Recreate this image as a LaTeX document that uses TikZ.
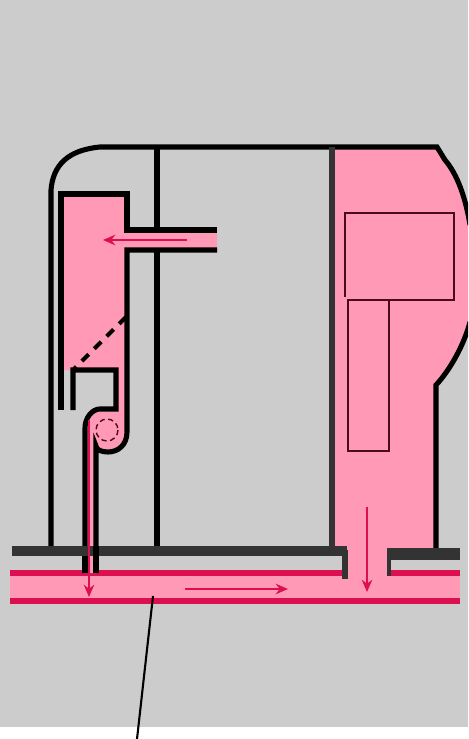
\documentclass[tikz,border=0pt]{standalone}
\usepackage{tikz}
\usetikzlibrary{arrows.meta}
\definecolor{bggray}{HTML}{CCCCCC}
\definecolor{flowpink}{HTML}{FF99B5}
\definecolor{flowred}{HTML}{DC1050}
\definecolor{bardark}{HTML}{333333}
\definecolor{boxred}{HTML}{4A0A20}
\tikzset{
	wall/.style={line width=2.9pt, black},
	bar/.style={line width=2.9pt, bardark},
	flowline/.style={line width=3.4pt, flowred},
	flowarrow/.style={->, line width=0.9pt, flowred},
	innerbox/.style={line width=0.9pt, boxred}
}
\begin{document}
\begin{tikzpicture}[x=0.02cm, y=-0.02cm, >={Stealth[length=7pt, width=6pt]}]
	\clip (0, 0) rectangle (468, 739);
	\fill[white] (0, 0) rectangle (468, 739);
	\fill[bggray] (0, 0) rectangle (468, 727);

	% Vùng hồng bên phải
	\fill[flowpink] (332, 147) -- (437, 147) -- (445, 160) .. controls (458, 175) and (466, 200) .. (470, 225)
		-- (470, 322) .. controls (464, 345) and (450, 370) .. (436, 385) -- (436, 550) -- (387, 550) -- (387, 590) -- (345, 590) -- (345, 550) -- (332, 550) -- cycle;

	% Ống ngang dưới cùng
	\fill[flowpink] (10, 573) rectangle (460, 601);
	\draw[flowline] (10, 573) -- (345, 573);
	\draw[flowline] (388, 573) -- (460, 573);
	\draw[flowline] (10, 601) -- (460, 601);

	% Vùng hồng bên trái
	\fill[flowpink] (62, 194) -- (127, 194) -- (127, 230) -- (217, 230) -- (217, 250) -- (127, 250) -- (127, 432)
		-- (122, 447) -- (108, 452) -- (96, 446) -- (96, 573) -- (85, 573) -- (85, 427) -- (97, 409) -- (116, 409)
		-- (116, 370) -- (62, 370) -- cycle;

	% Vỏ ngoài
	\draw[wall] (51, 547) -- (51, 190) .. controls (53, 165) and (68, 150) .. (100, 147) -- (437, 147)
		-- (445, 160) .. controls (458, 175) and (466, 200) .. (470, 225);
	\draw[wall] (470, 322) .. controls (464, 345) and (450, 370) .. (436, 385) -- (436, 548);
	\draw[wall] (157, 147) -- (157, 230);
	\draw[wall] (157, 250) -- (157, 547);
	\draw[bar, line width=3.2pt] (332, 147) -- (332, 547);

	% Khoang bên trái
	\draw[wall] (61, 410) -- (61, 194) -- (127, 194) -- (127, 230) -- (217, 230);
	\draw[wall] (217, 250) -- (127, 250) -- (127, 432) .. controls (127, 445) and (118, 452) .. (108, 452)
		.. controls (102, 452) and (96, 450) .. (96, 446) -- (96, 573);
	\draw[wall] (73, 410) -- (73, 370) -- (116, 370) -- (116, 409) -- (100, 409)
		.. controls (92, 409) and (85, 418) .. (85, 428) -- (85, 573);
	\draw[black, line width=2.4pt, dash pattern=on 5.5pt off 4.5pt] (126, 317) -- (74, 369);
	\draw[boxred, line width=0.8pt, densely dashed] (107, 430) circle (11);

	% Thanh ngang đậm
	\fill[bardark] (12, 546) rectangle (347, 556);
	\fill[bardark] (387, 548) rectangle (460, 560);
	\draw[bar] (345, 550) -- (345, 579);
	\draw[bar, line width=2.2pt] (389, 550) -- (389, 576);
	\draw[wall] (85, 556) -- (85, 573);
	\draw[wall] (96, 546) -- (96, 573);

	% Các hình chữ nhật bên phải
	\draw[innerbox] (345, 297) -- (345, 213) -- (454, 213) -- (454, 300) -- (348, 300);
	\draw[innerbox] (348, 300) rectangle (389, 451);

	% Các mũi tên
	\draw[flowarrow] (187, 240) -- (103, 240);
	\draw[flowarrow] (89, 420) -- (89, 597);
	\draw[flowarrow] (185, 589) -- (288, 589);
	\draw[flowarrow] (367, 507) -- (367, 592);

	% Đường chỉ dẫn
	\draw[black, line width=1.2pt] (153, 596) -- (137, 739);
\end{tikzpicture}
\end{document}
